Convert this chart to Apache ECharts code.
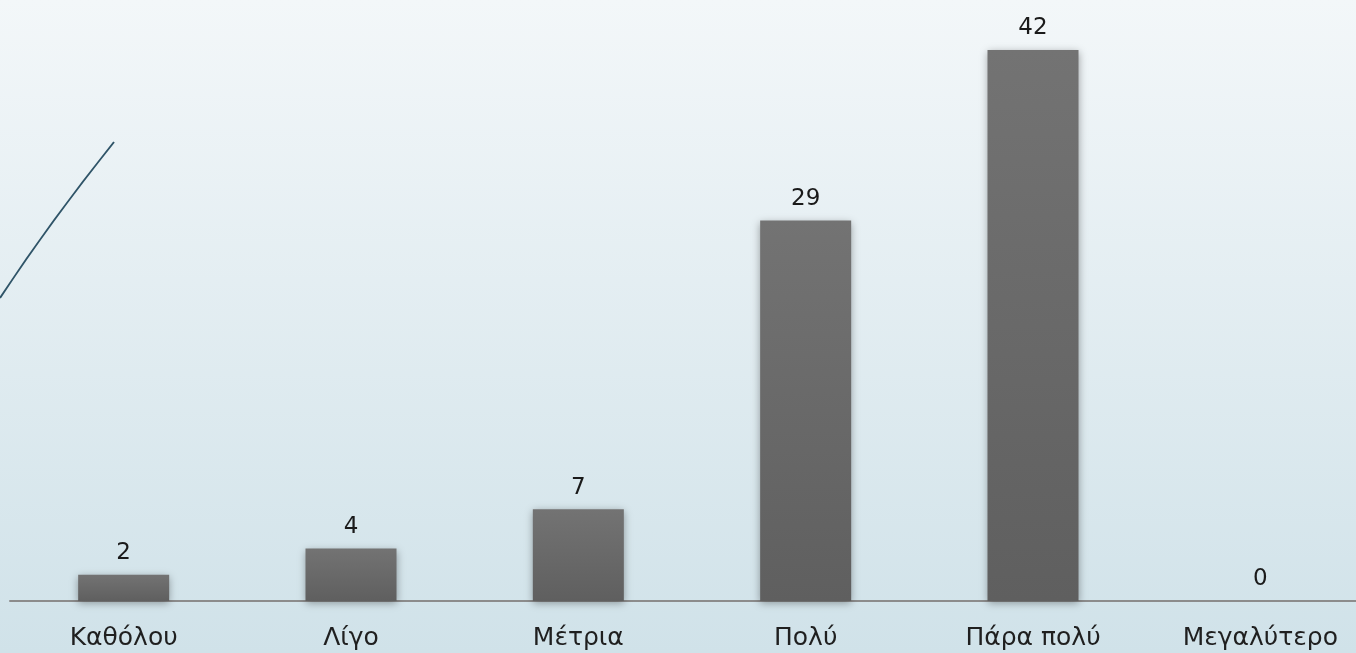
<!DOCTYPE html>
<html>
<head>
<meta charset="utf-8">
<script src="https://cdn.jsdelivr.net/npm/echarts@6/dist/echarts.min.js"></script>
<style>
html,body{margin:0;padding:0;}
#main{width:1356px;height:653px;}
</style>
</head>
<body>
<div id="main"></div>
<script>
// κατηγορίες και τιμές
var categories = ['Καθόλου', 'Λίγο', 'Μέτρια', 'Πολύ', 'Πάρα πολύ', 'Μεγαλύτερο'];
var values = [2, 4, 7, 29, 42, 0];

var myChart = echarts.init(document.getElementById('main'));

var option = {
    backgroundColor: {
        type: 'linear', x: 0, y: 0, x2: 0, y2: 1,
        colorStops: [{offset: 0, color: '#f3f7f9'}, {offset: 1, color: '#d0e2e9'}]
    },
    grid: {left: 10, width: 1364, top: 50, bottom: 52, outerBoundsMode: 'none', containLabel: false},
    xAxis: {
        type: 'category',
        data: categories,
        axisLine: {lineStyle: {color: '#8c8c8c', width: 2}},
        axisTick: {show: false},
        axisLabel: {color: '#1f1f1f', fontSize: 25, fontFamily: 'DejaVu Sans', margin: 25, interval: 0}
    },
    yAxis: {
        type: 'value', min: 0, max: 42, show: false,
        splitLine: {show: false}
    },
    series: [{
        type: 'bar',
        data: values,
        barWidth: 91,
        itemStyle: {
            color: {
                type: 'linear', x: 0, y: 0, x2: 0, y2: 1,
                colorStops: [{offset: 0, color: '#737373'}, {offset: 1, color: '#5f5f5f'}]
            },
            shadowBlur: 8,
            shadowColor: 'rgba(0,0,0,0.35)',
            shadowOffsetY: 2
        },
        label: {
            show: true, position: 'top', distance: 10,
            color: '#1a1a1a', fontSize: 23, fontFamily: 'DejaVu Sans'
        }
    }],
    graphic: [{
        type: 'bezierCurve',
        shape: {x1: 0, y1: 298, x2: 114, y2: 142, cpx1: 50, cpy1: 222},
        style: {stroke: '#2f5468', lineWidth: 2, fill: null}
    }]
};

myChart.setOption(option);
</script>
</body>
</html>
